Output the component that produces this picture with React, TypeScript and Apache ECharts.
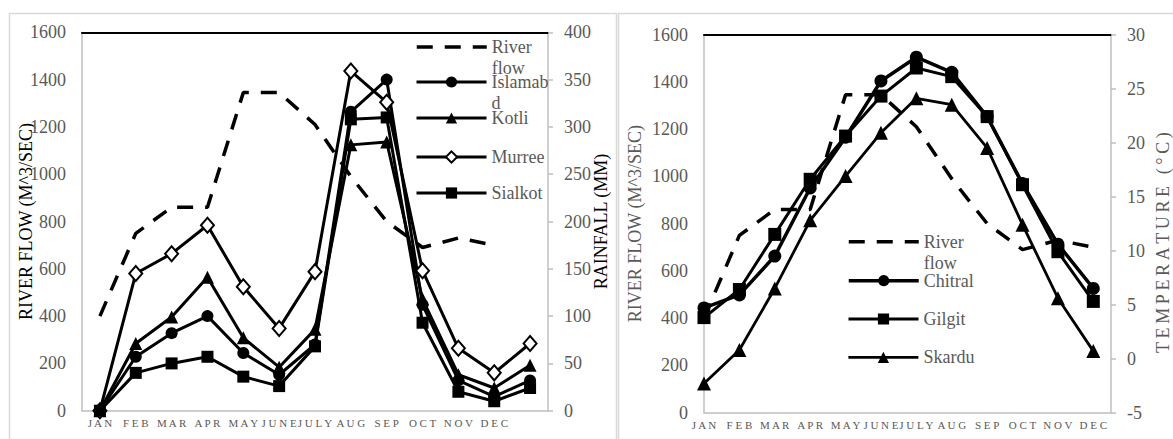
import React, { useEffect, useRef } from 'react';
import * as echarts from 'echarts';

// ---------- data ----------
const months = ['JAN', 'FEB', 'MAR', 'APR', 'MAY', 'JUNE', 'JULY', 'AUG', 'SEP', 'OCT', 'NOV', 'DEC'];
const leftCategories = [...months, ''];

// river flow (M^3/SEC), same on both panels
const riverFlow = [400, 750, 860, 860, 1345, 1345, 1210, 990, 800, 690, 730, 700];

// rainfall (MM), left panel, 13 points
const islamabad = [0, 57, 82, 100, 61, 38, 70, 316, 350, 112, 32, 15, 32];
const kotli = [0, 71, 99, 141, 77, 46, 86, 281, 284, 118, 38, 24, 48];
const murree = [0, 145, 166, 196, 131, 87, 147, 359, 326, 148, 66, 40, 71];
const sialkot = [0, 40, 50, 57, 36, 26, 68, 308, 310, 93, 20, 10, 24];

// temperature (°C), right panel
const chitral = [4.7, 5.9, 9.5, 15.8, 20.5, 25.7, 27.9, 26.5, 22.4, 16.2, 10.6, 6.5];
const gilgit = [3.8, 6.4, 11.5, 16.6, 20.6, 24.3, 26.9, 26.1, 22.4, 16.1, 9.9, 5.3];
const skardu = [-2.3, 0.8, 6.5, 12.8, 16.9, 20.9, 24.1, 23.5, 19.5, 12.4, 5.6, 0.7];

const FONT = "'Liberation Serif', 'Times New Roman', serif";
const GRAY = '#595959';
const AXIS_GRAY = '#bfbfbf';

const spaced = (s: string) => (s ? s.split('').join(' ') : '');
const thinSpaced = (s: string) => s.split('').join('\u2009');

// wrapped legend texts; leading blank line keeps the first line level with the icon
const legendLabels: Record<string, string> = {
  'River flow': '\u00a0\nRiver\nflow',
  Islamabad: '\u00a0\nIslamab\nd',
};

function makeLegend(name: string, left: number, centerY: number, hideSymbol = false) {
  const twoLine = !!legendLabels[name];
  return {
    data: [name],
    left,
    top: twoLine ? centerY - 31.5 : centerY - 10.5,
    orient: 'vertical',
    padding: 0,
    itemWidth: 70,
    itemHeight: 14,
    itemGap: 0,
    selectedMode: false,
    formatter: (n: string) => legendLabels[n] || n,
    textStyle: {
      color: GRAY,
      fontFamily: FONT,
      fontSize: 18,
      lineHeight: 21,
    },
    lineStyle: { width: 'inherit' },
    itemStyle: hideSymbol ? { opacity: 0, color: 'rgba(0,0,0,0)', borderWidth: 0 } : {},
  };
}

const valueAxisLabel = {
  color: GRAY,
  fontFamily: FONT,
  fontSize: 18,
  margin: 16,
  formatter: (v: number) => String(v),
};
const grayLine = { show: true, onZero: false, lineStyle: { color: AXIS_GRAY, width: 1.5 } };
const blackTop = { show: true, onZero: false, lineStyle: { color: '#000', width: 2 } };

export default function App() {
  const ref = useRef<HTMLDivElement>(null);

  useEffect(() => {
    if (!ref.current) return;
    const chart = echarts.init(ref.current, undefined, { renderer: 'svg' });

    const lineCommon = {
      type: 'line',
      lineStyle: { color: '#000', width: 3 },
      itemStyle: { color: '#000' },
      symbolSize: 12,
      showSymbol: true,
      z: 3,
    };

    const option: any = {
      animation: false,
      backgroundColor: '#fff',
      textStyle: { fontFamily: FONT },
      graphic: [
        {
          type: 'rect',
          silent: true,
          z: -10,
          shape: { x: 9.5, y: 13.5, width: 607, height: 440 },
          style: { fill: 'none', stroke: '#d9d9d9', lineWidth: 1.5 },
        },
        {
          type: 'rect',
          silent: true,
          z: -10,
          shape: { x: 618.5, y: 13.5, width: 570, height: 440 },
          style: { fill: 'none', stroke: '#d9d9d9', lineWidth: 1.5 },
        },
      ],
      grid: [
        { left: 82, top: 32.3, width: 466, height: 378.4 },
        { left: 704, top: 34.5, width: 411, height: 378.2 },
      ],
      xAxis: [
        {
          type: 'category',
          gridIndex: 0,
          data: leftCategories,
          boundaryGap: true,
          axisLine: grayLine,
          axisTick: { show: false },
          splitLine: { show: false },
          axisLabel: {
            interval: 0,
            formatter: spaced,
            color: GRAY,
            fontFamily: FONT,
            fontSize: 11,
            margin: 7,
          },
        },
        {
          type: 'category',
          gridIndex: 0,
          position: 'top',
          data: leftCategories,
          axisLine: blackTop,
          axisTick: { show: false },
          axisLabel: { show: false },
          splitLine: { show: false },
        },
        {
          type: 'value',
          gridIndex: 1,
          min: 0,
          max: 11.5,
          interval: 1,
          axisLine: grayLine,
          axisTick: { show: false },
          splitLine: { show: false },
          axisLabel: {
            formatter: (v: number) => (Number.isInteger(v) && v >= 0 && v < months.length ? spaced(months[v]) : ''),
            color: GRAY,
            fontFamily: FONT,
            fontSize: 11,
            margin: 7,
          },
        },
        {
          type: 'value',
          gridIndex: 1,
          position: 'top',
          min: 0,
          max: 11.5,
          interval: 1,
          axisLine: blackTop,
          axisTick: { show: false },
          axisLabel: { show: false },
          splitLine: { show: false },
        },
      ],
      yAxis: [
        {
          type: 'value',
          gridIndex: 0,
          position: 'left',
          min: 0,
          max: 1600,
          interval: 200,
          name: 'RIVER FLOW (M^3/SEC)',
          nameLocation: 'middle',
          nameGap: 47,
          nameMoveOverlap: false,
          nameTextStyle: { color: '#000', fontFamily: FONT, fontSize: 18 },
          axisLine: grayLine,
          axisTick: { show: false },
          splitLine: { show: false },
          axisLabel: valueAxisLabel,
        },
        {
          type: 'value',
          gridIndex: 0,
          position: 'right',
          min: 0,
          max: 400,
          interval: 50,
          name: 'RAINFALL (MM)',
          nameLocation: 'middle',
          nameGap: 44,
          nameMoveOverlap: false,
          nameTextStyle: { color: '#000', fontFamily: FONT, fontSize: 18 },
          axisLine: grayLine,
          axisTick: { show: true, length: 5, lineStyle: { color: AXIS_GRAY, width: 1.5 } },
          splitLine: { show: false },
          axisLabel: valueAxisLabel,
        },
        {
          type: 'value',
          gridIndex: 1,
          position: 'left',
          min: 0,
          max: 1600,
          interval: 200,
          name: 'RIVER FLOW (M^3/SEC)',
          nameLocation: 'middle',
          nameGap: 60,
          nameMoveOverlap: false,
          nameTextStyle: { color: GRAY, fontFamily: FONT, fontSize: 18 },
          axisLine: grayLine,
          axisTick: { show: false },
          splitLine: { show: false },
          axisLabel: valueAxisLabel,
        },
        {
          type: 'value',
          gridIndex: 1,
          position: 'right',
          min: -5,
          max: 30,
          interval: 5,
          name: thinSpaced('TEMPERATURE (°C)'),
          nameLocation: 'middle',
          nameGap: 43,
          nameMoveOverlap: false,
          nameTextStyle: { color: GRAY, fontFamily: FONT, fontSize: 18, padding: [0, 38, 0, 0] },
          axisLine: grayLine,
          axisTick: { show: true, length: 5, lineStyle: { color: AXIS_GRAY, width: 1.5 } },
          splitLine: { show: false },
          axisLabel: valueAxisLabel,
        },
      ],
      legend: [
        makeLegend('River flow', 415, 47, true),
        makeLegend('Islamabad', 415, 82),
        makeLegend('Kotli', 415, 118),
        makeLegend('Murree', 415, 157),
        makeLegend('Sialkot', 415, 193),
        makeLegend('River flow', 847, 241.7, true),
        makeLegend('Chitral', 847, 280.7),
        makeLegend('Gilgit', 847, 319),
        makeLegend('Skardu', 847, 357.3),
      ],
      series: [
        {
          ...lineCommon,
          name: 'River flow',
          xAxisIndex: 0,
          yAxisIndex: 0,
          data: riverFlow,
          symbol: 'none',
          lineStyle: { color: '#000', width: 3.5, type: [16, 12] },
          z: 2,
        },
        { ...lineCommon, name: 'Islamabad', xAxisIndex: 0, yAxisIndex: 1, data: islamabad, symbol: 'circle' },
        { ...lineCommon, name: 'Kotli', xAxisIndex: 0, yAxisIndex: 1, data: kotli, symbol: 'triangle', symbolSize: 13 },
        {
          ...lineCommon,
          name: 'Murree',
          xAxisIndex: 0,
          yAxisIndex: 1,
          data: murree,
          symbol: 'diamond',
          symbolSize: [13, 15],
          itemStyle: { color: '#fff', borderColor: '#000', borderWidth: 2 },
        },
        { ...lineCommon, name: 'Sialkot', xAxisIndex: 0, yAxisIndex: 1, data: sialkot, symbol: 'rect', symbolSize: 12 },
        {
          ...lineCommon,
          name: 'River flow',
          xAxisIndex: 2,
          yAxisIndex: 2,
          data: riverFlow.map((v, i) => [i, v]),
          symbol: 'none',
          lineStyle: { color: '#000', width: 3.5, type: [16, 12] },
          z: 2,
        },
        {
          ...lineCommon,
          name: 'Chitral',
          xAxisIndex: 2,
          yAxisIndex: 3,
          data: chitral.map((v, i) => [i, v]),
          symbol: 'circle',
          symbolSize: 13,
          lineStyle: { color: '#000', width: 3.5 },
        },
        {
          ...lineCommon,
          name: 'Gilgit',
          xAxisIndex: 2,
          yAxisIndex: 3,
          data: gilgit.map((v, i) => [i, v]),
          symbol: 'rect',
          symbolSize: 13,
        },
        {
          ...lineCommon,
          name: 'Skardu',
          xAxisIndex: 2,
          yAxisIndex: 3,
          data: skardu.map((v, i) => [i, v]),
          symbol: 'triangle',
          symbolSize: 14,
          lineStyle: { color: '#000', width: 2.8 },
        },
      ],
    };

    chart.setOption(option);
    return () => chart.dispose();
  }, []);

  return <div ref={ref} style={{ position: 'absolute', left: 0, top: 0, width: 1173, height: 439 }} />;
}
